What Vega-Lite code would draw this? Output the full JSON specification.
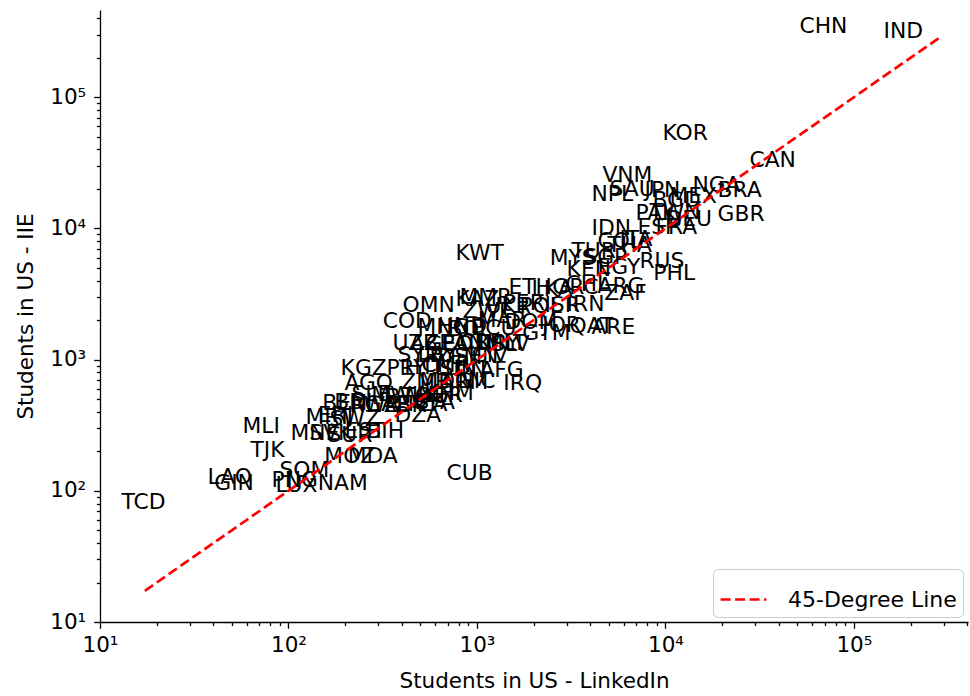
{
  "$schema": "https://vega.github.io/schema/vega-lite/v6.json",
  "width": 868,
  "height": 612,
  "autosize": {"type": "none"},
  "padding": {"left": 100, "top": 10, "right": 2, "bottom": 74},
  "background": "white",
  "config": {
    "view": {"stroke": null},
    "font": "DejaVu Sans",
    "axis": {
      "grid": false,
      "domainColor": "black",
      "domainWidth": 1.3,
      "tickColor": "black",
      "tickWidth": 1.3,
      "labelFont": "DejaVu Sans",
      "labelFontSize": 21.5,
      "labelColor": "black",
      "labelOverlap": false,
      "labelBound": false,
      "labelFlush": false,
      "titleFont": "DejaVu Sans",
      "titleFontSize": 21.5,
      "titleFontWeight": "normal",
      "titleColor": "black"
    }
  },
  "datasets": {
    "countries": [
      {"code": "CHN", "linkedin": 51400, "iie": 308500},
      {"code": "IND", "linkedin": 143500, "iie": 282600},
      {"code": "KOR", "linkedin": 9640, "iie": 47200},
      {"code": "CAN", "linkedin": 27900, "iie": 29400},
      {"code": "VNM", "linkedin": 4630, "iie": 22600},
      {"code": "NGA", "linkedin": 13900, "iie": 18900},
      {"code": "BRA", "linkedin": 18900, "iie": 17300},
      {"code": "SAU", "linkedin": 5050, "iie": 17700},
      {"code": "JPN", "linkedin": 7740, "iie": 17300},
      {"code": "NPL", "linkedin": 4050, "iie": 16200},
      {"code": "MEX", "linkedin": 10500, "iie": 15600},
      {"code": "BGD", "linkedin": 8530, "iie": 14600},
      {"code": "PAK", "linkedin": 6930, "iie": 11600},
      {"code": "DEU", "linkedin": 10000, "iie": 10400},
      {"code": "TWN", "linkedin": 8220, "iie": 11800},
      {"code": "GBR", "linkedin": 18900, "iie": 11400},
      {"code": "IDN", "linkedin": 4050, "iie": 8910},
      {"code": "ESP", "linkedin": 7110, "iie": 9060},
      {"code": "FRA", "linkedin": 8850, "iie": 9060},
      {"code": "ITA", "linkedin": 5700, "iie": 7350},
      {"code": "COL", "linkedin": 4360, "iie": 7100},
      {"code": "THA", "linkedin": 4920, "iie": 6610},
      {"code": "MYS", "linkedin": 2430, "iie": 5260},
      {"code": "TUR", "linkedin": 3170, "iie": 5940},
      {"code": "SGP", "linkedin": 3670, "iie": 5360},
      {"code": "KEN", "linkedin": 2990, "iie": 4340},
      {"code": "EGY", "linkedin": 4360, "iie": 4490},
      {"code": "RUS", "linkedin": 7280, "iie": 4990},
      {"code": "PHL", "linkedin": 8630, "iie": 4050},
      {"code": "KWT", "linkedin": 769, "iie": 5740},
      {"code": "ETH", "linkedin": 1470, "iie": 3160},
      {"code": "LKA", "linkedin": 1950, "iie": 3050},
      {"code": "GRC", "linkedin": 2510, "iie": 3160},
      {"code": "CHL", "linkedin": 2950, "iie": 3340},
      {"code": "ARG", "linkedin": 4360, "iie": 3220},
      {"code": "ZAF", "linkedin": 4740, "iie": 2850},
      {"code": "MMR", "linkedin": 807, "iie": 2650},
      {"code": "KAZ", "linkedin": 769, "iie": 2560},
      {"code": "OMN", "linkedin": 403, "iie": 2310},
      {"code": "ZWE", "linkedin": 838, "iie": 2080},
      {"code": "UKR", "linkedin": 1110, "iie": 2260},
      {"code": "PER", "linkedin": 1370, "iie": 2390},
      {"code": "POL", "linkedin": 1680, "iie": 2260},
      {"code": "ISR", "linkedin": 2280, "iie": 2310},
      {"code": "IRN", "linkedin": 2990, "iie": 2350},
      {"code": "COD", "linkedin": 316, "iie": 1740},
      {"code": "MNG", "linkedin": 483, "iie": 1570},
      {"code": "HND", "linkedin": 617, "iie": 1600},
      {"code": "BOL", "linkedin": 698, "iie": 1510},
      {"code": "ECU", "linkedin": 935, "iie": 1540},
      {"code": "MAR", "linkedin": 1010, "iie": 1770},
      {"code": "DOM", "linkedin": 1400, "iie": 1710},
      {"code": "GTM", "linkedin": 1740, "iie": 1410},
      {"code": "JOR", "linkedin": 2220, "iie": 1620},
      {"code": "QAT", "linkedin": 3100, "iie": 1600},
      {"code": "ARE", "linkedin": 4050, "iie": 1570},
      {"code": "UZB", "linkedin": 356, "iie": 1180},
      {"code": "AZE", "linkedin": 438, "iie": 1180},
      {"code": "GEO", "linkedin": 533, "iie": 1160},
      {"code": "PAN", "linkedin": 649, "iie": 1180},
      {"code": "CRI", "linkedin": 807, "iie": 1200},
      {"code": "URY", "linkedin": 993, "iie": 1180},
      {"code": "SLV", "linkedin": 1190, "iie": 1160},
      {"code": "MLT", "linkedin": 1100, "iie": 1180},
      {"code": "SYR", "linkedin": 379, "iie": 959},
      {"code": "LBY", "linkedin": 483, "iie": 959},
      {"code": "YEM", "linkedin": 609, "iie": 925},
      {"code": "SEN", "linkedin": 760, "iie": 942},
      {"code": "CIV", "linkedin": 935, "iie": 959},
      {"code": "KGZ", "linkedin": 189, "iie": 764},
      {"code": "PRY", "linkedin": 331, "iie": 764},
      {"code": "TUN", "linkedin": 574, "iie": 764},
      {"code": "HTI", "linkedin": 412, "iie": 777},
      {"code": "CMR", "linkedin": 508, "iie": 805},
      {"code": "SDN", "linkedin": 632, "iie": 750},
      {"code": "AFG", "linkedin": 1030, "iie": 736},
      {"code": "IRQ", "linkedin": 1380, "iie": 586},
      {"code": "AGO", "linkedin": 198, "iie": 586},
      {"code": "ZMB", "linkedin": 397, "iie": 597},
      {"code": "MDG", "linkedin": 495, "iie": 608},
      {"code": "ARM", "linkedin": 632, "iie": 597},
      {"code": "NIC", "linkedin": 789, "iie": 608},
      {"code": "SLE", "linkedin": 216, "iie": 483},
      {"code": "MWI", "linkedin": 275, "iie": 475},
      {"code": "BWA", "linkedin": 327, "iie": 459},
      {"code": "TGO", "linkedin": 397, "iie": 467},
      {"code": "NER", "linkedin": 483, "iie": 475},
      {"code": "KHM", "linkedin": 526, "iie": 492},
      {"code": "BEN", "linkedin": 151, "iie": 413},
      {"code": "BDI", "linkedin": 175, "iie": 420},
      {"code": "RWA", "linkedin": 211, "iie": 399},
      {"code": "GAB", "linkedin": 253, "iie": 406},
      {"code": "LBR", "linkedin": 323, "iie": 399},
      {"code": "TZA", "linkedin": 412, "iie": 406},
      {"code": "BFA", "linkedin": 466, "iie": 420},
      {"code": "DZA", "linkedin": 365, "iie": 334},
      {"code": "MRT", "linkedin": 123, "iie": 323},
      {"code": "ERI", "linkedin": 143, "iie": 334},
      {"code": "SWZ", "linkedin": 165, "iie": 312},
      {"code": "MLI", "linkedin": 57, "iie": 276},
      {"code": "MNE", "linkedin": 102.5, "iie": 244},
      {"code": "SVK", "linkedin": 129, "iie": 244},
      {"code": "SUR", "linkedin": 161, "iie": 235},
      {"code": "EST", "linkedin": 198, "iie": 253},
      {"code": "BIH", "linkedin": 259, "iie": 253},
      {"code": "TJK", "linkedin": 62.8, "iie": 181},
      {"code": "MOZ", "linkedin": 155, "iie": 163},
      {"code": "MDA", "linkedin": 206, "iie": 163},
      {"code": "SOM", "linkedin": 89.6, "iie": 127},
      {"code": "LAO", "linkedin": 37.2, "iie": 113},
      {"code": "GIN", "linkedin": 40.4, "iie": 101},
      {"code": "PNG", "linkedin": 81.3, "iie": 107},
      {"code": "LUX", "linkedin": 85.3, "iie": 98},
      {"code": "NAM", "linkedin": 143, "iie": 101},
      {"code": "CUB", "linkedin": 689, "iie": 121},
      {"code": "TCD", "linkedin": 13.0, "iie": 72.6}
    ],
    "line45": [
      {"series": "45-Degree Line", "linkedin": 17.3, "iie": 17.3},
      {"series": "45-Degree Line", "linkedin": 285000, "iie": 285000}
    ]
  },
  "layer": [
    {
      "data": {"name": "countries"},
      "mark": {"type": "text", "align": "left", "baseline": "alphabetic", "font": "DejaVu Sans", "fontSize": 21.8, "color": "black"},
      "encoding": {
        "x": {
          "field": "linkedin", "type": "quantitative",
          "scale": {"type": "log", "domain": [10, 403000], "nice": false},
          "axis": {
            "title": "Students in US - LinkedIn",
            "values": [10,20,30,40,50,60,70,80,90,100,200,300,400,500,600,700,800,900,1000,2000,3000,4000,5000,6000,7000,8000,9000,10000,20000,30000,40000,50000,60000,70000,80000,90000,100000,200000,300000,400000],
            "labelExpr": "abs(log(datum.value)/LN10 - round(log(datum.value)/LN10)) < 0.001 ? '10' + ['⁰','¹','²','³','⁴','⁵','⁶'][round(log(datum.value)/LN10)] : ''",
            "tickSize": {"condition": {"test": "abs(log(datum.value)/LN10 - round(log(datum.value)/LN10)) < 0.001", "value": 6.3}, "value": 3.6},
            "labelPadding": 6,
            "titlePadding": 15
          }
        },
        "y": {
          "field": "iie", "type": "quantitative",
          "scale": {"type": "log", "domain": [10, 462000], "nice": false},
          "axis": {
            "title": "Students in US - IIE",
            "values": [10,20,30,40,50,60,70,80,90,100,200,300,400,500,600,700,800,900,1000,2000,3000,4000,5000,6000,7000,8000,9000,10000,20000,30000,40000,50000,60000,70000,80000,90000,100000,200000,300000,400000],
            "labelExpr": "abs(log(datum.value)/LN10 - round(log(datum.value)/LN10)) < 0.001 ? '10' + ['⁰','¹','²','³','⁴','⁵','⁶'][round(log(datum.value)/LN10)] : ''",
            "tickSize": {"condition": {"test": "abs(log(datum.value)/LN10 - round(log(datum.value)/LN10)) < 0.001", "value": 6.3}, "value": 3.6},
            "labelPadding": 8,
            "titlePadding": 12
          }
        },
        "text": {"field": "code"}
      }
    },
    {
      "data": {"name": "line45"},
      "mark": {"type": "line", "strokeDash": [10, 4.5], "strokeWidth": 2.7},
      "encoding": {
        "x": {"field": "linkedin", "type": "quantitative"},
        "y": {"field": "iie", "type": "quantitative"},
        "color": {
          "field": "series", "type": "nominal",
          "scale": {"range": ["red"]},
          "legend": {
            "title": null,
            "orient": "none",
            "legendX": 613,
            "legendY": 559,
            "symbolType": "stroke",
            "symbolSize": 2100,
            "symbolStrokeWidth": 2.7,
            "symbolDash": [10, 4.5],
            "labelFont": "DejaVu Sans",
            "labelFontSize": 22,
            "labelColor": "black",
            "labelLimit": 0,
            "labelOffset": 20,
            "strokeColor": "#cccccc",
            "fillColor": "white",
            "cornerRadius": 5,
            "padding": 6
          }
        }
      }
    }
  ]
}
